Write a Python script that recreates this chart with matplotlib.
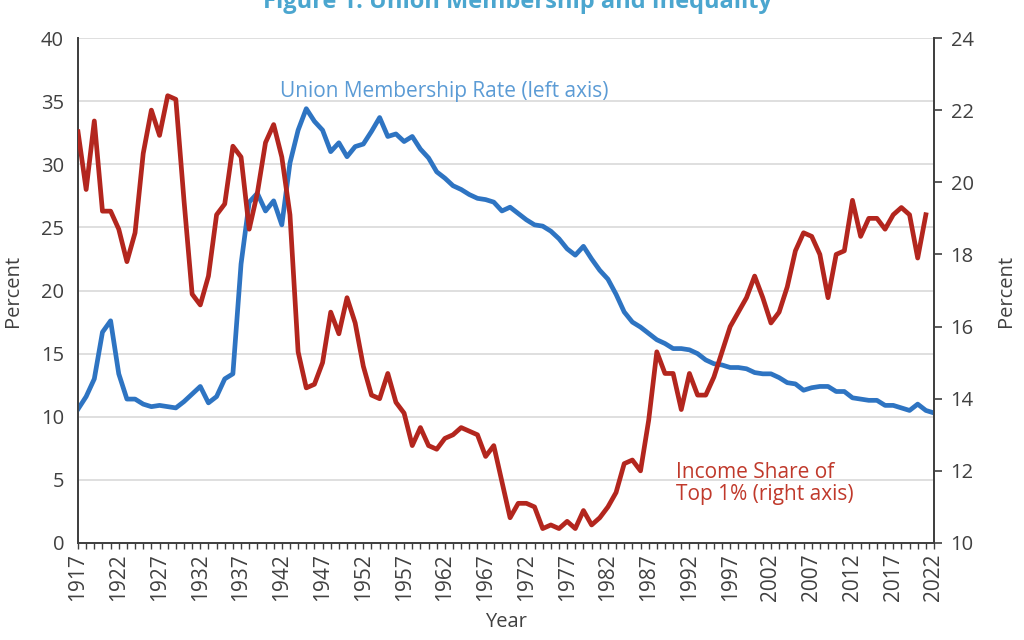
import matplotlib
matplotlib.use('Agg')
import matplotlib.pyplot as plt
from matplotlib.ticker import MultipleLocator

years_union = list(range(1917, 2023))
union_rate = [10.6, 11.6, 13.0, 16.7, 17.6, 13.4, 11.4, 11.4, 11.0, 10.8,
              10.9, 10.8, 10.7, 11.2, 11.8, 12.4, 11.1, 11.6, 13.0, 13.4,
              22.1, 27.0, 27.7, 26.3, 27.1, 25.2, 30.1, 32.7, 34.4, 33.4,
              32.7, 31.0, 31.7, 30.6, 31.4, 31.6, 32.6, 33.7, 32.2, 32.4,
              31.8, 32.2, 31.2, 30.5, 29.4, 28.9, 28.3, 28.0, 27.6, 27.3,
              27.2, 27.0, 26.3, 26.6, 26.1, 25.6, 25.2, 25.1, 24.7, 24.1,
              23.3, 22.8, 23.5, 22.5, 21.6, 20.9, 19.7, 18.3, 17.5, 17.1,
              16.6, 16.1, 15.8, 15.4, 15.4, 15.3, 15.0, 14.5, 14.2, 14.1,
              13.9, 13.9, 13.8, 13.5, 13.4, 13.4, 13.1, 12.7, 12.6, 12.1,
              12.3, 12.4, 12.4, 12.0, 12.0, 11.5, 11.4, 11.3, 11.3, 10.9,
              10.9, 10.7, 10.5, 11.0, 10.5, 10.3]

years_top1 = list(range(1917, 2022))
top1_share = [21.4, 19.8, 21.7, 19.2, 19.2, 18.7, 17.8, 18.6, 20.8, 22.0,
              21.3, 22.4, 22.3, 19.5, 16.9, 16.6, 17.4, 19.1, 19.4, 21.0,
              20.7, 18.7, 19.7, 21.1, 21.6, 20.7, 19.1, 15.3, 14.3, 14.4,
              15.0, 16.4, 15.8, 16.8, 16.1, 14.9, 14.1, 14.0, 14.7, 13.9,
              13.6, 12.7, 13.2, 12.7, 12.6, 12.9, 13.0, 13.2, 13.1, 13.0,
              12.4, 12.7, 11.7, 10.7, 11.1, 11.1, 11.0, 10.4, 10.5, 10.4,
              10.6, 10.4, 10.9, 10.5, 10.7, 11.0, 11.4, 12.2, 12.3, 12.0,
              13.4, 15.3, 14.7, 14.7, 13.7, 14.7, 14.1, 14.1, 14.6, 15.3,
              16.0, 16.4, 16.8, 17.4, 16.8, 16.1, 16.4, 17.1, 18.1, 18.6,
              18.5, 18.0, 16.8, 18.0, 18.1, 19.5, 18.5, 19.0, 19.0, 18.7,
              19.1, 19.3, 19.1, 17.9, 19.1]

xtick_years = list(range(1917, 2023, 5))

plt.rcParams['font.family'] = ['Open Sans', 'DejaVu Sans']
plt.rcParams['font.size'] = 14.5

fig = plt.figure(figsize=(10.24, 6.4), dpi=100)
ax = fig.add_axes([78/1024, 1 - 543/640, (934 - 78)/1024, (543 - 38)/640])
ax2 = ax.twinx()

ax.plot(years_union, union_rate, color='#2e74c2', lw=3.4, solid_joinstyle='round', zorder=3)
ax2.plot(years_top1, top1_share, color='#b3261e', lw=3.4, solid_joinstyle='round', zorder=3)

ax.set_xlim(1917, 2022)
ax.set_ylim(0, 40)
ax2.set_ylim(10, 24)
ax.yaxis.set_major_locator(MultipleLocator(5))
ax2.yaxis.set_major_locator(MultipleLocator(2))
ax.set_xticks(xtick_years)
ax.set_xticklabels([str(y) for y in xtick_years], rotation=90, fontsize=15)
ax.xaxis.set_minor_locator(MultipleLocator(1))

ax.grid(True, axis='y', color='#d9d9d9', lw=1.2)
ax.set_axisbelow(True)
ax.tick_params(axis='y', length=0, colors='#404040', pad=10)
ax.tick_params(axis='x', which='both', length=4, direction='out', colors='#404040', width=1)
ax2.tick_params(axis='y', length=6, width=1.2, colors='#404040', pad=6)

for a in (ax, ax2):
    a.spines['top'].set_visible(False)
    for s in ('left', 'right', 'bottom'):
        a.spines[s].set_color('#404040')
        a.spines[s].set_linewidth(1.3)

ax.set_ylabel('Percent', color='#404040', labelpad=13)
ax2.set_ylabel('Percent', color='#404040', labelpad=16)
ax.set_xlabel('Year', color='#404040', labelpad=8)

ax.text(1941.8, 35.3, 'Union Membership Rate (left axis)', color='#5b9bd5', fontsize=15)
ax2.text(1990.3, 11.2, 'Income Share of\nTop 1% (right axis)', color='#c0392b',
         fontsize=15, linespacing=1.05)

fig.text(0.505, 1 - 8/640, 'Figure 1: Union Membership and Inequality', ha='center',
         va='baseline', color='#4ba6cf', fontsize=17, fontweight='bold')

fig.savefig('out.png', dpi=100)
